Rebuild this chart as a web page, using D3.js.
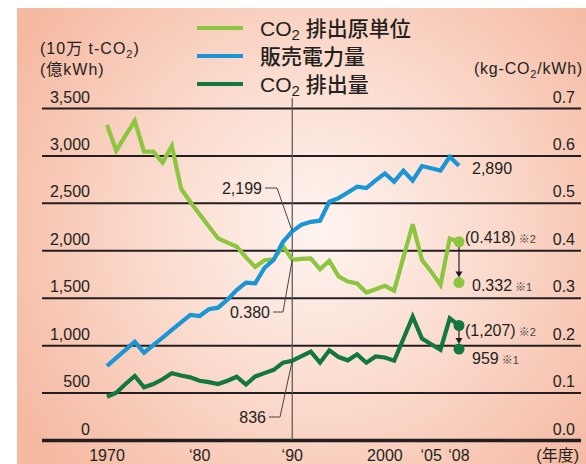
<!DOCTYPE html>
<html><head><meta charset="utf-8">
<script src="https://cdn.jsdelivr.net/npm/d3@7"></script>
<style>
html,body{margin:0;padding:0;background:#fff;}
svg{display:block;}
text{font-family:"Liberation Sans", Arial, "Noto Sans CJK JP", sans-serif; fill:#231f20;}
</style></head><body>
<svg id="c" width="586" height="464"></svg>
<script>
// ---- data ----
const years = [1970,1971,1972,1973,1974,1975,1976,1977,1978,1979,
               1980,1981,1982,1983,1984,1985,1986,1987,1988,1989,
               1990,1991,1992,1993,1994,1995,1996,1997,1998,1999,
               2000,2001,2002,2003,2004,2005,2006,2007,2008];
// 販売電力量 (億kWh)
const salesValues = [780,865,950,1036,920,1000,1080,1160,1240,1318,
                     1307,1378,1395,1480,1580,1658,1652,1815,1900,2090,
                     2199,2270,2300,2312,2512,2550,2610,2670,2655,2737,
                     2811,2723,2839,2734,2888,2865,2840,2985,2890];
// CO2 排出量 (10万 t-CO2)
const emissionValues = [456,499,590,675,556,590,640,703,680,660,
                        625,610,590,625,667,585,670,705,740,815,
                        836,885,931,815,945,875,840,903,815,880,
                        870,836,1068,1300,1070,1010,950,1283,1207];
// CO2 排出原単位 (kg-CO2/kWh)
const intensityValues = [0.664,0.610,0.642,0.673,0.608,0.608,0.585,0.620,0.530,0.502,
                         0.476,0.450,0.425,0.416,0.408,0.385,0.365,0.379,0.381,0.409,
                         0.380,0.382,0.383,0.360,0.378,0.345,0.334,0.330,0.311,0.318,
                         0.325,0.315,0.385,0.455,0.380,0.355,0.327,0.425,0.418];
const leftTicks = [0,500,1000,1500,2000,2500,3000,3500];
const rightTicks = [0,0.1,0.2,0.3,0.4,0.5,0.6,0.7];
const xTickYears = [1970,1980,1990,2000,2005,2008];
const xTickLabels = ["1970","‘80","‘90","2000","‘05","‘08"];
const legendNames = [["CO","2"," 排出原単位"],["販売電力量"],["CO","2"," 排出量"]];
const intensityEnd = [0.418, 0.332];
const emissionEnd = [1207, 959];
const salesEnd = 2890;
const markYear = 1990;
const endYear = 2008;

// ---- drawing ----
const svg = d3.select("#c");
const colors = {light:"#8cc63f", blue:"#1a96d7", dark:"#12783d"};

const defs = svg.append("defs");
const rg = defs.append("radialGradient").attr("id","bg")
  .attr("gradientUnits","userSpaceOnUse").attr("cx",320).attr("cy",230).attr("r",360);
rg.append("stop").attr("offset","0%").attr("stop-color","#fef4f0");
rg.append("stop").attr("offset","45%").attr("stop-color","#fbdccf");
rg.append("stop").attr("offset","100%").attr("stop-color","#f5b8a0");
svg.append("rect").attr("x",17).attr("y",8).attr("width",569).attr("height",456).attr("fill","url(#bg)");

const x = d3.scaleLinear().domain([1970,2008]).range([107,459]);
const yL = d3.scaleLinear().domain([0,3500]).range([440,108]);
const yR = d3.scaleLinear().domain([0,0.7]).range([440,108]);

// gridlines + left labels
const gl = svg.append("g").attr("transform","translate(42,0)")
  .call(d3.axisRight(yL).tickValues(leftTicks).tickSize(539).tickFormat(d3.format(",")));
gl.select(".domain").remove();
gl.selectAll(".tick line").attr("stroke","#231f20").attr("stroke-width",d=>d===0?3.5:2);
gl.selectAll(".tick text").attr("x",48).attr("dy",-6).attr("text-anchor","end")
  .style("font-size","16px").attr("fill","#231f20");

// right labels
const gr = svg.append("g").attr("transform","translate(575,0)")
  .call(d3.axisLeft(yR).tickValues(rightTicks).tickSize(0).tickFormat(d3.format(".1f")));
gr.select(".domain").remove();
gr.selectAll(".tick text").attr("x",0).attr("dy",-6).attr("text-anchor","end")
  .style("font-size","16px").attr("fill","#231f20");

// x labels
svg.append("g").selectAll("text").data(xTickYears).join("text")
  .attr("x",d=>x(d)).attr("y",461).attr("text-anchor","middle")
  .style("font-size","16px").text((d,i)=>xTickLabels[i]);
svg.append("text").attr("x",579).attr("y",461).attr("text-anchor","end")
  .style("font-size","16px").text("(年度)");

// vertical 1990 line
svg.append("line").attr("x1",x(markYear)).attr("x2",x(markYear)).attr("y1",98).attr("y2",440)
  .attr("stroke","#555").attr("stroke-width",1.2);

// series
const line = (ys, sc) => d3.line().x((d,i)=>x(years[i])).y(d=>sc(d))(ys);
function drawSeries(vals, sc, col){
  svg.append("path").attr("d",line(vals,sc)).attr("fill","none")
    .attr("stroke",col).attr("stroke-width",4.2).attr("stroke-linejoin","miter").attr("stroke-miterlimit",3);
}
drawSeries(emissionValues, yL, colors.dark);
drawSeries(intensityValues, yR, colors.light);
drawSeries(salesValues, yL, colors.blue);

// end dots and arrows
function endMarks(vals, sc, col){
  const xe = x(endYear);
  const y1 = sc(vals[0]), y2 = sc(vals[1]);
  svg.append("line").attr("x1",xe).attr("x2",xe).attr("y1",y1).attr("y2",y2-9)
    .attr("stroke","#231f20").attr("stroke-width",1.2);
  svg.append("path").attr("d",`M${xe-3.5},${y2-11} L${xe+3.5},${y2-11} L${xe},${y2-5} Z`).attr("fill","#231f20");
  svg.selectAll(null).data(vals).join("circle").attr("cx",xe).attr("cy",d=>sc(d)).attr("r",5.5).attr("fill",col);
}
endMarks(intensityEnd, yR, colors.light);
endMarks(emissionEnd, yL, colors.dark);

// right-side value labels
function valLabel(xp, yp, main, note){
  const t = svg.append("text").attr("x",xp).attr("y",yp).style("font-size","16px");
  t.append("tspan").text(main);
  if(note) t.append("tspan").attr("dx",3).style("font-size","11px").attr("fill","#444").text(note);
}
valLabel(472, 174, d3.format(",")(salesEnd));
valLabel(465, 243, "(" + d3.format(".3f")(intensityEnd[0]) + ")", "※2");
valLabel(472, 291, d3.format(".3f")(intensityEnd[1]), "※1");
valLabel(465, 336, "(" + d3.format(",")(emissionEnd[0]) + ")", "※2");
valLabel(472, 364, d3.format(",")(emissionEnd[1]), "※1");

// 1990 annotations with leaders
const xm = x(markYear);
const i90 = years.indexOf(markYear);
function leader(tx, ty, txt, pts){
  svg.append("text").attr("x",tx).attr("y",ty+6).attr("text-anchor","end").style("font-size","16px").text(txt);
  svg.append("path").attr("d",d3.line()(pts)).attr("fill","none").attr("stroke","#444").attr("stroke-width",1);
}
leader(262, 188, d3.format(",")(salesValues[i90]), [[265,188],[277,188],[xm, yL(salesValues[i90])]]);
leader(270, 312, d3.format(".3f")(intensityValues[i90]), [[273,312],[283,312],[xm, yR(intensityValues[i90])]]);
leader(266, 417, d3.format(",")(emissionValues[i90]), [[269,417],[280,417],[xm, yL(emissionValues[i90])]]);

// axis titles
const tl = svg.append("text").attr("x",40).attr("y",54).style("font-size","16px").style("letter-spacing","1px");
tl.append("tspan").text("(10万 t-CO");
tl.append("tspan").attr("dy",4).style("font-size","11px").text("2");
tl.append("tspan").attr("dy",-4).text(")");
svg.append("text").attr("x",40).attr("y",75).style("font-size","16px").style("letter-spacing","1px").text("(億kWh)");
const tr = svg.append("text").attr("x",583).attr("y",74).attr("text-anchor","end").style("font-size","16px").style("letter-spacing","0.8px");
tr.append("tspan").text("(kg-CO");
tr.append("tspan").attr("dy",4).style("font-size","11px").text("2");
tr.append("tspan").attr("dy",-4).text("/kWh)");

// legend
const legendColors = [colors.light, colors.blue, colors.dark];
const legendY = [28, 56, 84];
legendNames.forEach((parts,i)=>{
  svg.append("line").attr("x1",197).attr("x2",243).attr("y1",legendY[i]).attr("y2",legendY[i])
    .attr("stroke",legendColors[i]).attr("stroke-width",4.2);
  const t = svg.append("text").attr("x",260).attr("y",legendY[i]+8).style("font-size","21px").style("font-weight","500");
  if(parts.length===1){ t.text(parts[0]); }
  else {
    t.append("tspan").text(parts[0]);
    t.append("tspan").attr("dy",4).style("font-size","15px").text(parts[1]);
    t.append("tspan").attr("dy",-4).text(parts[2]);
  }
});
</script>
</body></html>
